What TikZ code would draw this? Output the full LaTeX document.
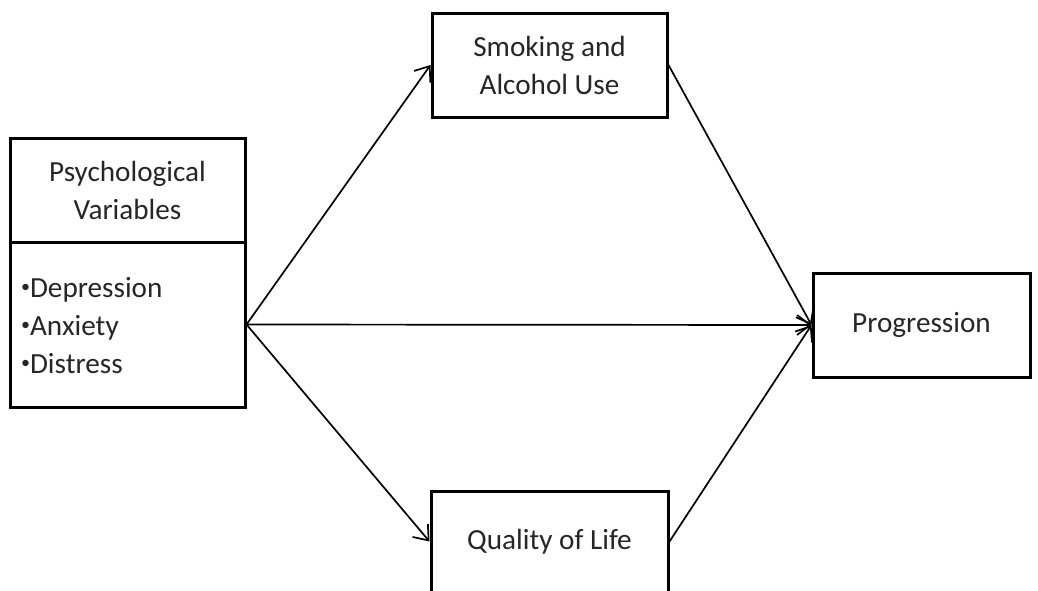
\documentclass[tikz,border=0pt]{standalone}
\usepackage{fontspec}
\setmainfont{Carlito}
\usetikzlibrary{arrows.meta}
\newcommand{\itemdot}{\raisebox{0.18em}{\fontsize{9pt}{9pt}\selectfont•}}
\begin{document}
\begin{tikzpicture}[x=0.5pt, y=-0.5pt,
    factor/.style = {rectangle, draw, line width=1.5pt, align=center, inner sep=0pt},
    link/.style = {line width=0.85pt, -{Straight Barb[length=6.5pt, width=10pt, line width=0.85pt]}},
    font=\fontsize{14.6pt}{19pt}\selectfont, text=black!85]
  % Page.
  \useasboundingbox (0, 0) rectangle (1038, 590);
  \clip (0, 0) rectangle (1038, 590);

  % Factors.
  \node at (127.5, 190) [factor, minimum width=117.5pt, minimum height=52pt, name=PsychTitle] {Psychological\\Variables};
  \node at (127.5, 324.5) [factor, minimum width=117.5pt, minimum height=82.5pt, name=PsychList] {};
  \node at (14, 326) [anchor=west, align=left, name=PsychItems] {\itemdot Depression\\\itemdot Anxiety\\\itemdot Distress};
  \node at (549.5, 65) [factor, minimum width=117.5pt, minimum height=52pt, name=Smoking] {Smoking and\\Alcohol Use};
  \node at (549.5, 541.5) [factor, minimum width=118.5pt, minimum height=50.5pt, name=Quality] {Quality of Life};
  \node at (921.5, 325) [factor, minimum width=108.5pt, minimum height=52pt, name=Progression] {Progression};

  % Paths.
  \draw [link] (PsychList.east) to (Smoking.west);
  \draw [link] (PsychList.east) to (Progression.west);
  \draw [link] (PsychList.east) to (Quality.west);
  \draw [link] (Smoking.east) to (Progression.west);
  \draw [link] (Quality.east) to (Progression.west);
\end{tikzpicture}
\end{document}
